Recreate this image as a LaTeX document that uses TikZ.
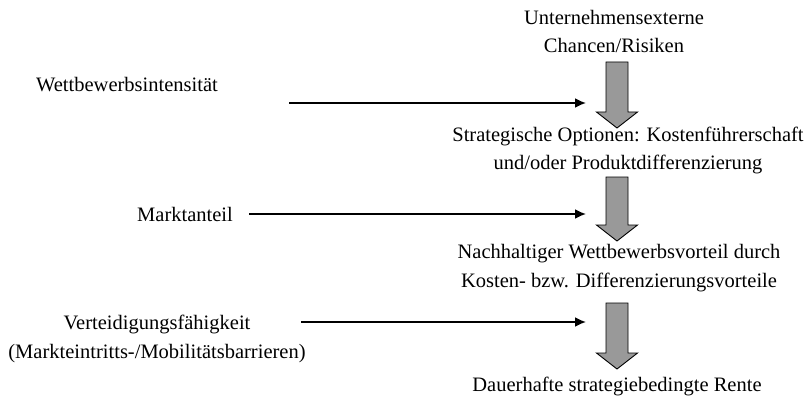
\documentclass[tikz,border=0pt]{standalone}
\usepackage{fontspec}
\setmainfont{Liberation Serif}
\usetikzlibrary{calc,arrows.meta}
\definecolor{blockfill}{RGB}{153,153,153}
\tikzset{
  lbl/.style={anchor=base, inner sep=0pt, font=\fontsize{20.5}{28}\selectfont, align=center},
  feed/.style={line width=1.8pt, -{Latex[length=11pt,width=10pt]}},
  block/.style={draw=black, line width=0.9pt, fill=blockfill, line join=miter}
}
% downward block arrow from coordinate #1 (top) to coordinate #2 (tip)
\newcommand\blockdown[2]{%
  \draw[block] ($(#1)+(-11,0)$) -- ($(#1)+(11,0)$) -- ($(#2)+(11,-16)$)
    -- ($(#2)+(20.5,-16)$) -- (#2) -- ($(#2)+(-20.5,-16)$)
    -- ($(#2)+(-11,-16)$) -- cycle;}
\begin{document}
\begin{tikzpicture}[x=1pt,y=-1pt]
  \useasboundingbox (0,0) rectangle (808,401);
  % central column
  \node[lbl] (ext1) at (614,25) {Unternehmensexterne};
  \node[lbl] (ext2) at (614,53) {Chancen/Risiken};
  \node[lbl] (opt1) at (628,141) {Strategische Optionen: Kostenführerschaft};
  \node[lbl] (opt2) at (628,169) {und/oder Produktdifferenzierung};
  \node[lbl] (wv1) at (619,258) {Nachhaltiger Wettbewerbsvorteil durch};
  \node[lbl] (wv2) at (619,287) {Kosten- bzw. Differenzierungsvorteile};
  \node[lbl] (rente) at (617,391) {Dauerhafte strategiebedingte Rente};
  % influencing factors
  \node[lbl] (wi) at (127,92) {Wettbewerbsintensität};
  \node[lbl] (ma) at (185,221) {Marktanteil};
  \node[lbl] (vf1) at (157,329) {Verteidigungsfähigkeit};
  \node[lbl] (vf2) at (157,358) {(Markteintritts-/Mobilitätsbarrieren)};
  % block arrow end points
  \coordinate (b1s) at (617,62);  \coordinate (b1e) at (617,128);
  \coordinate (b2s) at (617,177); \coordinate (b2e) at (617,241);
  \coordinate (b3s) at (617,303); \coordinate (b3e) at (617,369);
  \blockdown{b1s}{b1e}
  \blockdown{b2s}{b2e}
  \blockdown{b3s}{b3e}
  % factor arrows
  \coordinate (f1s) at (289,103); \coordinate (f1) at (586,103);
  \coordinate (f2s) at (249,214); \coordinate (f2) at (586,214);
  \coordinate (f3s) at (301,322); \coordinate (f3) at (586,322);
  \draw[feed] (f1s) -- (f1);
  \draw[feed] (f2s) -- (f2);
  \draw[feed] (f3s) -- (f3);
\end{tikzpicture}
\end{document}
